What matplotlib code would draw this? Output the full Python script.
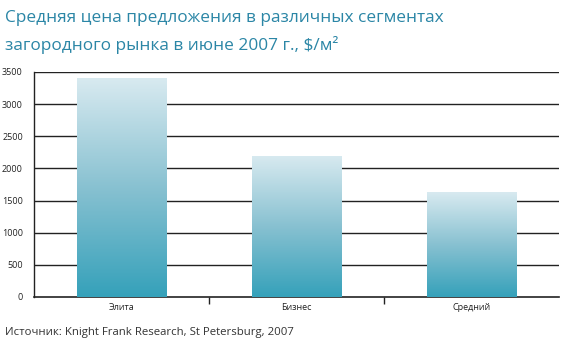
import matplotlib
matplotlib.use("Agg")
import matplotlib.pyplot as plt
import numpy as np
from matplotlib.colors import LinearSegmentedColormap

categories = ["Элита", "Бизнес", "Средний"]
values = [3400, 2200, 1630]
yticks = [0, 500, 1000, 1500, 2000, 2500, 3000, 3500]
title_lines = ["Средняя цена предложения в различных сегментах",
               "загородного рынка в июне 2007 г., $/м²"]
source = "Источник: Knight Frank Research, St Petersburg, 2007"

plt.rcParams['font.family'] = ['Open Sans', 'DejaVu Sans']

fig = plt.figure(figsize=(5.83, 3.48), dpi=100)
ax = fig.add_axes([34/583, 1-297/348, 525/583, 225/348])

x = np.arange(len(categories))
bars = ax.bar(x, values, width=0.51, color='none', edgecolor='none', zorder=3)

cmap = LinearSegmentedColormap.from_list("g", ["#35a1ba", "#88c1d1", "#d8eaf0"])
grad = np.linspace(0, 1, 256).reshape(-1, 1)
for b in bars:
    x0, y0 = b.get_x(), b.get_y()
    w, h = b.get_width(), b.get_height()
    im = ax.imshow(grad, cmap=cmap, origin='lower', aspect='auto',
                   extent=[x0, x0 + w, y0, y0 + h], zorder=3)
    im.set_clip_path(b)

ax.set_xlim(-0.5, len(categories) - 0.5)
ax.set_ylim(0, 3500)
for yv in yticks[1:]:
    ax.axhline(yv, color='#222222', lw=1.0, zorder=1)

ax.set_yticks(yticks)
ax.set_yticklabels([str(v) for v in yticks], fontsize=6.5, color='#222222')
ax.tick_params(axis='y', length=0, pad=8)
ax.set_xticks(np.arange(len(categories) + 1) - 0.5)
ax.set_xticklabels([])
ax.set_xticks(x, minor=True)
ax.set_xticklabels(categories, minor=True, fontsize=6.5, color='#222222')
ax.tick_params(axis='x', which='major', length=5, width=1, color='#222222', direction='out')
ax.tick_params(axis='x', which='minor', length=0, pad=4)
majt = ax.xaxis.get_major_ticks()
for t in (majt[0], majt[-1]):
    t.tick1line.set_visible(False)

for s in ['top', 'right']:
    ax.spines[s].set_visible(False)
ax.spines['left'].set_color('#222222')
ax.spines['bottom'].set_color('#222222')
ax.spines['left'].set_linewidth(1.0)
ax.spines['bottom'].set_linewidth(1.2)
ax.set_axisbelow(False)

for i, line in enumerate(title_lines):
    fig.text(5/583, 1-(18 + 27*i)/348, line, fontsize=12.4, color='#2b86a6',
             va='center', ha='left')
fig.text(5/583, 1-332/348, source, fontsize=8.2, color='#333333', va='center', ha='left')

fig.savefig("out.png", dpi=100)
